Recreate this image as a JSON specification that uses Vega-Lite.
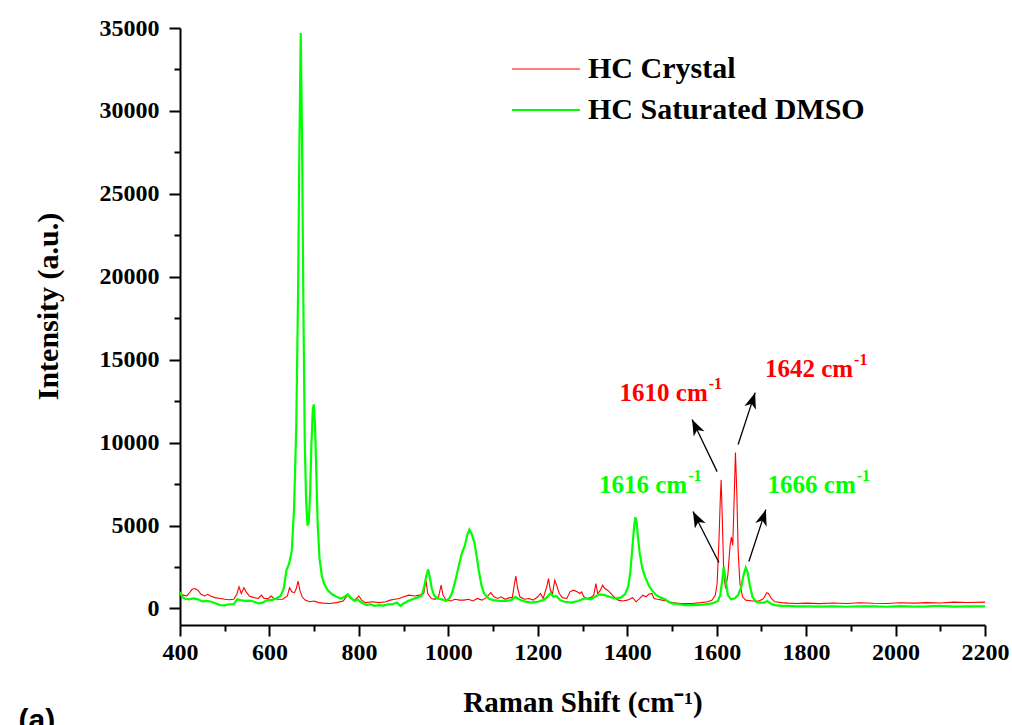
{
 "$schema": "https://vega.github.io/schema/vega-lite/v6.json",
 "width": 805, "height": 597,
 "autosize": {"type": "none"},
 "padding": {"left": 180, "top": 28, "right": 27, "bottom": 100},
 "background": "white",
 "config": {"view": {"stroke": null}, "font": "Liberation Serif"},
 "datasets": {
  "ann": [
   {"series": "HC Crystal", "shift": 1580, "intensity": 13000, "label": "1610 cm", "sup": "-1"},
   {"series": "HC Crystal", "shift": 1905, "intensity": 14450, "label": "1642 cm", "sup": "-1"},
   {"series": "HC Saturated DMSO", "shift": 1534, "intensity": 7470, "label": "1616 cm", "sup": "-1"},
   {"series": "HC Saturated DMSO", "shift": 1911, "intensity": 7470, "label": "1666 cm", "sup": "-1"}
  ],
  "arrows": [
   {"shift": 1601, "intensity": 8250, "shift2": 1545, "intensity2": 11390, "angle": 334},
   {"shift": 1648, "intensity": 9880, "shift2": 1686, "intensity2": 13010, "angle": 18},
   {"shift": 1605, "intensity": 2770, "shift2": 1547, "intensity2": 5840, "angle": 333},
   {"shift": 1672, "intensity": 2830, "shift2": 1710, "intensity2": 5960, "angle": 18}
  ],
  "panel": [{"shift": 80, "intensity": -6800, "label": "(a)"}]
 },
 "layer": [
  {
   "data": {"values": [
    {"series":"HC Crystal","shift":400,"intensity":850},{"series":"HC Crystal","shift":408,"intensity":800},{"series":"HC Crystal","shift":415,"intensity":750},{"series":"HC Crystal","shift":420,"intensity":900},{"series":"HC Crystal","shift":427,"intensity":1150},{"series":"HC Crystal","shift":433,"intensity":1200},{"series":"HC Crystal","shift":440,"intensity":1100},{"series":"HC Crystal","shift":447,"intensity":850},{"series":"HC Crystal","shift":455,"intensity":750},{"series":"HC Crystal","shift":462,"intensity":850},{"series":"HC Crystal","shift":468,"intensity":750},{"series":"HC Crystal","shift":478,"intensity":650},{"series":"HC Crystal","shift":490,"intensity":600},{"series":"HC Crystal","shift":500,"intensity":550},{"series":"HC Crystal","shift":510,"intensity":520},{"series":"HC Crystal","shift":520,"intensity":550},{"series":"HC Crystal","shift":527,"intensity":850},{"series":"HC Crystal","shift":532,"intensity":1300},{"series":"HC Crystal","shift":537,"intensity":900},{"series":"HC Crystal","shift":543,"intensity":1250},{"series":"HC Crystal","shift":548,"intensity":1000},{"series":"HC Crystal","shift":555,"intensity":750},{"series":"HC Crystal","shift":565,"intensity":650},{"series":"HC Crystal","shift":575,"intensity":600},{"series":"HC Crystal","shift":582,"intensity":800},{"series":"HC Crystal","shift":588,"intensity":600},{"series":"HC Crystal","shift":597,"intensity":600},{"series":"HC Crystal","shift":604,"intensity":750},{"series":"HC Crystal","shift":610,"intensity":600},{"series":"HC Crystal","shift":620,"intensity":550},{"series":"HC Crystal","shift":630,"intensity":550},{"series":"HC Crystal","shift":640,"intensity":750},{"series":"HC Crystal","shift":645,"intensity":1250},{"series":"HC Crystal","shift":650,"intensity":1000},{"series":"HC Crystal","shift":656,"intensity":950},{"series":"HC Crystal","shift":660,"intensity":1200},{"series":"HC Crystal","shift":664,"intensity":1650},{"series":"HC Crystal","shift":668,"intensity":1100},{"series":"HC Crystal","shift":673,"intensity":700},{"series":"HC Crystal","shift":680,"intensity":500},{"series":"HC Crystal","shift":690,"intensity":400},{"series":"HC Crystal","shift":700,"intensity":450},{"series":"HC Crystal","shift":710,"intensity":350},{"series":"HC Crystal","shift":720,"intensity":320},{"series":"HC Crystal","shift":735,"intensity":300},{"series":"HC Crystal","shift":750,"intensity":350},{"series":"HC Crystal","shift":765,"intensity":450},{"series":"HC Crystal","shift":775,"intensity":800},{"series":"HC Crystal","shift":782,"intensity":600},{"series":"HC Crystal","shift":790,"intensity":500},{"series":"HC Crystal","shift":800,"intensity":750},{"series":"HC Crystal","shift":806,"intensity":500},{"series":"HC Crystal","shift":815,"intensity":350},{"series":"HC Crystal","shift":830,"intensity":400},{"series":"HC Crystal","shift":845,"intensity":350},{"series":"HC Crystal","shift":860,"intensity":400},{"series":"HC Crystal","shift":870,"intensity":500},{"series":"HC Crystal","shift":880,"intensity":550},{"series":"HC Crystal","shift":890,"intensity":600},{"series":"HC Crystal","shift":900,"intensity":700},{"series":"HC Crystal","shift":912,"intensity":800},{"series":"HC Crystal","shift":925,"intensity":750},{"series":"HC Crystal","shift":935,"intensity":800},{"series":"HC Crystal","shift":945,"intensity":900},{"series":"HC Crystal","shift":950,"intensity":1700},{"series":"HC Crystal","shift":954,"intensity":900},{"series":"HC Crystal","shift":962,"intensity":600},{"series":"HC Crystal","shift":970,"intensity":550},{"series":"HC Crystal","shift":978,"intensity":700},{"series":"HC Crystal","shift":984,"intensity":1400},{"series":"HC Crystal","shift":988,"intensity":800},{"series":"HC Crystal","shift":995,"intensity":500},{"series":"HC Crystal","shift":1005,"intensity":450},{"series":"HC Crystal","shift":1015,"intensity":550},{"series":"HC Crystal","shift":1025,"intensity":500},{"series":"HC Crystal","shift":1035,"intensity":500},{"series":"HC Crystal","shift":1045,"intensity":550},{"series":"HC Crystal","shift":1055,"intensity":450},{"series":"HC Crystal","shift":1065,"intensity":600},{"series":"HC Crystal","shift":1075,"intensity":500},{"series":"HC Crystal","shift":1085,"intensity":650},{"series":"HC Crystal","shift":1095,"intensity":950},{"series":"HC Crystal","shift":1102,"intensity":700},{"series":"HC Crystal","shift":1110,"intensity":600},{"series":"HC Crystal","shift":1118,"intensity":700},{"series":"HC Crystal","shift":1127,"intensity":550},{"series":"HC Crystal","shift":1137,"intensity":650},{"series":"HC Crystal","shift":1143,"intensity":650},{"series":"HC Crystal","shift":1148,"intensity":1500},{"series":"HC Crystal","shift":1151,"intensity":1950},{"series":"HC Crystal","shift":1155,"intensity":1200},{"series":"HC Crystal","shift":1160,"intensity":700},{"series":"HC Crystal","shift":1170,"intensity":550},{"series":"HC Crystal","shift":1180,"intensity":600},{"series":"HC Crystal","shift":1190,"intensity":500},{"series":"HC Crystal","shift":1200,"intensity":700},{"series":"HC Crystal","shift":1206,"intensity":900},{"series":"HC Crystal","shift":1212,"intensity":600},{"series":"HC Crystal","shift":1220,"intensity":1300},{"series":"HC Crystal","shift":1224,"intensity":1800},{"series":"HC Crystal","shift":1228,"intensity":1100},{"series":"HC Crystal","shift":1233,"intensity":900},{"series":"HC Crystal","shift":1238,"intensity":1700},{"series":"HC Crystal","shift":1242,"intensity":1400},{"series":"HC Crystal","shift":1248,"intensity":900},{"series":"HC Crystal","shift":1255,"intensity":650},{"series":"HC Crystal","shift":1265,"intensity":600},{"series":"HC Crystal","shift":1272,"intensity":1000},{"series":"HC Crystal","shift":1280,"intensity":1100},{"series":"HC Crystal","shift":1288,"intensity":1000},{"series":"HC Crystal","shift":1294,"intensity":900},{"series":"HC Crystal","shift":1298,"intensity":1000},{"series":"HC Crystal","shift":1303,"intensity":700},{"series":"HC Crystal","shift":1310,"intensity":600},{"series":"HC Crystal","shift":1318,"intensity":650},{"series":"HC Crystal","shift":1325,"intensity":800},{"series":"HC Crystal","shift":1330,"intensity":1500},{"series":"HC Crystal","shift":1334,"intensity":900},{"series":"HC Crystal","shift":1340,"intensity":1100},{"series":"HC Crystal","shift":1345,"intensity":1400},{"series":"HC Crystal","shift":1350,"intensity":1200},{"series":"HC Crystal","shift":1356,"intensity":1100},{"series":"HC Crystal","shift":1362,"intensity":950},{"series":"HC Crystal","shift":1370,"intensity":700},{"series":"HC Crystal","shift":1380,"intensity":500},{"series":"HC Crystal","shift":1390,"intensity":450},{"series":"HC Crystal","shift":1400,"intensity":500},{"series":"HC Crystal","shift":1412,"intensity":650},{"series":"HC Crystal","shift":1420,"intensity":400},{"series":"HC Crystal","shift":1428,"intensity":600},{"series":"HC Crystal","shift":1435,"intensity":800},{"series":"HC Crystal","shift":1442,"intensity":700},{"series":"HC Crystal","shift":1448,"intensity":850},{"series":"HC Crystal","shift":1455,"intensity":900},{"series":"HC Crystal","shift":1460,"intensity":600},{"series":"HC Crystal","shift":1468,"intensity":550},{"series":"HC Crystal","shift":1478,"intensity":500},{"series":"HC Crystal","shift":1490,"intensity":450},{"series":"HC Crystal","shift":1500,"intensity":350},{"series":"HC Crystal","shift":1520,"intensity":300},{"series":"HC Crystal","shift":1545,"intensity":300},{"series":"HC Crystal","shift":1565,"intensity":350},{"series":"HC Crystal","shift":1580,"intensity":400},{"series":"HC Crystal","shift":1590,"intensity":500},{"series":"HC Crystal","shift":1597,"intensity":800},{"series":"HC Crystal","shift":1601,"intensity":1500},{"series":"HC Crystal","shift":1605,"intensity":4000},{"series":"HC Crystal","shift":1608,"intensity":6500},{"series":"HC Crystal","shift":1610,"intensity":7750},{"series":"HC Crystal","shift":1613,"intensity":5000},{"series":"HC Crystal","shift":1616,"intensity":2000},{"series":"HC Crystal","shift":1620,"intensity":1200},{"series":"HC Crystal","shift":1625,"intensity":2000},{"series":"HC Crystal","shift":1630,"intensity":3800},{"series":"HC Crystal","shift":1633,"intensity":4300},{"series":"HC Crystal","shift":1636,"intensity":3800},{"series":"HC Crystal","shift":1639,"intensity":6500},{"series":"HC Crystal","shift":1642,"intensity":9400},{"series":"HC Crystal","shift":1645,"intensity":7000},{"series":"HC Crystal","shift":1648,"intensity":3500},{"series":"HC Crystal","shift":1652,"intensity":1500},{"series":"HC Crystal","shift":1658,"intensity":700},{"series":"HC Crystal","shift":1665,"intensity":500},{"series":"HC Crystal","shift":1680,"intensity":450},{"series":"HC Crystal","shift":1695,"intensity":450},{"series":"HC Crystal","shift":1705,"intensity":600},{"series":"HC Crystal","shift":1712,"intensity":950},{"series":"HC Crystal","shift":1716,"intensity":900},{"series":"HC Crystal","shift":1722,"intensity":600},{"series":"HC Crystal","shift":1730,"intensity":400},{"series":"HC Crystal","shift":1745,"intensity":350},{"series":"HC Crystal","shift":1760,"intensity":320},{"series":"HC Crystal","shift":1780,"intensity":300},{"series":"HC Crystal","shift":1800,"intensity":320},{"series":"HC Crystal","shift":1830,"intensity":290},{"series":"HC Crystal","shift":1860,"intensity":330},{"series":"HC Crystal","shift":1890,"intensity":300},{"series":"HC Crystal","shift":1920,"intensity":340},{"series":"HC Crystal","shift":1950,"intensity":310},{"series":"HC Crystal","shift":1980,"intensity":300},{"series":"HC Crystal","shift":2010,"intensity":340},{"series":"HC Crystal","shift":2040,"intensity":320},{"series":"HC Crystal","shift":2070,"intensity":350},{"series":"HC Crystal","shift":2100,"intensity":330},{"series":"HC Crystal","shift":2130,"intensity":380},{"series":"HC Crystal","shift":2160,"intensity":360},{"series":"HC Crystal","shift":2200,"intensity":380},
    {"series":"HC Saturated DMSO","shift":400,"intensity":1000},{"series":"HC Saturated DMSO","shift":405,"intensity":700},{"series":"HC Saturated DMSO","shift":410,"intensity":600},{"series":"HC Saturated DMSO","shift":420,"intensity":550},{"series":"HC Saturated DMSO","shift":430,"intensity":600},{"series":"HC Saturated DMSO","shift":440,"intensity":550},{"series":"HC Saturated DMSO","shift":450,"intensity":420},{"series":"HC Saturated DMSO","shift":460,"intensity":450},{"series":"HC Saturated DMSO","shift":470,"intensity":400},{"series":"HC Saturated DMSO","shift":480,"intensity":300},{"series":"HC Saturated DMSO","shift":490,"intensity":200},{"series":"HC Saturated DMSO","shift":500,"intensity":180},{"series":"HC Saturated DMSO","shift":510,"intensity":250},{"series":"HC Saturated DMSO","shift":520,"intensity":250},{"series":"HC Saturated DMSO","shift":528,"intensity":550},{"series":"HC Saturated DMSO","shift":535,"intensity":500},{"series":"HC Saturated DMSO","shift":545,"intensity":450},{"series":"HC Saturated DMSO","shift":555,"intensity":470},{"series":"HC Saturated DMSO","shift":565,"intensity":420},{"series":"HC Saturated DMSO","shift":575,"intensity":300},{"series":"HC Saturated DMSO","shift":585,"intensity":350},{"series":"HC Saturated DMSO","shift":595,"intensity":500},{"series":"HC Saturated DMSO","shift":605,"intensity":500},{"series":"HC Saturated DMSO","shift":615,"intensity":600},{"series":"HC Saturated DMSO","shift":625,"intensity":750},{"series":"HC Saturated DMSO","shift":632,"intensity":1200},{"series":"HC Saturated DMSO","shift":638,"intensity":2300},{"series":"HC Saturated DMSO","shift":644,"intensity":2700},{"series":"HC Saturated DMSO","shift":650,"intensity":3500},{"series":"HC Saturated DMSO","shift":655,"intensity":6000},{"series":"HC Saturated DMSO","shift":660,"intensity":11000},{"series":"HC Saturated DMSO","shift":664,"intensity":19000},{"series":"HC Saturated DMSO","shift":667,"intensity":28000},{"series":"HC Saturated DMSO","shift":670,"intensity":34700},{"series":"HC Saturated DMSO","shift":673,"intensity":28000},{"series":"HC Saturated DMSO","shift":676,"intensity":18000},{"series":"HC Saturated DMSO","shift":679,"intensity":10000},{"series":"HC Saturated DMSO","shift":682,"intensity":6500},{"series":"HC Saturated DMSO","shift":685,"intensity":5000},{"series":"HC Saturated DMSO","shift":688,"intensity":5200},{"series":"HC Saturated DMSO","shift":691,"intensity":7000},{"series":"HC Saturated DMSO","shift":694,"intensity":10000},{"series":"HC Saturated DMSO","shift":697,"intensity":12000},{"series":"HC Saturated DMSO","shift":699,"intensity":12300},{"series":"HC Saturated DMSO","shift":702,"intensity":11000},{"series":"HC Saturated DMSO","shift":705,"intensity":8000},{"series":"HC Saturated DMSO","shift":708,"intensity":5000},{"series":"HC Saturated DMSO","shift":712,"intensity":3000},{"series":"HC Saturated DMSO","shift":717,"intensity":2000},{"series":"HC Saturated DMSO","shift":722,"intensity":1500},{"series":"HC Saturated DMSO","shift":730,"intensity":1100},{"series":"HC Saturated DMSO","shift":740,"intensity":850},{"series":"HC Saturated DMSO","shift":750,"intensity":700},{"series":"HC Saturated DMSO","shift":760,"intensity":600},{"series":"HC Saturated DMSO","shift":768,"intensity":700},{"series":"HC Saturated DMSO","shift":775,"intensity":850},{"series":"HC Saturated DMSO","shift":782,"intensity":650},{"series":"HC Saturated DMSO","shift":790,"intensity":450},{"series":"HC Saturated DMSO","shift":797,"intensity":550},{"series":"HC Saturated DMSO","shift":803,"intensity":400},{"series":"HC Saturated DMSO","shift":810,"intensity":300},{"series":"HC Saturated DMSO","shift":818,"intensity":200},{"series":"HC Saturated DMSO","shift":825,"intensity":250},{"series":"HC Saturated DMSO","shift":835,"intensity":150},{"series":"HC Saturated DMSO","shift":845,"intensity":200},{"series":"HC Saturated DMSO","shift":855,"intensity":170},{"series":"HC Saturated DMSO","shift":865,"intensity":250},{"series":"HC Saturated DMSO","shift":875,"intensity":250},{"series":"HC Saturated DMSO","shift":885,"intensity":350},{"series":"HC Saturated DMSO","shift":893,"intensity":150},{"series":"HC Saturated DMSO","shift":900,"intensity":300},{"series":"HC Saturated DMSO","shift":910,"intensity":450},{"series":"HC Saturated DMSO","shift":920,"intensity":550},{"series":"HC Saturated DMSO","shift":930,"intensity":650},{"series":"HC Saturated DMSO","shift":940,"intensity":750},{"series":"HC Saturated DMSO","shift":946,"intensity":1300},{"series":"HC Saturated DMSO","shift":951,"intensity":2000},{"series":"HC Saturated DMSO","shift":955,"intensity":2350},{"series":"HC Saturated DMSO","shift":959,"intensity":1800},{"series":"HC Saturated DMSO","shift":963,"intensity":1200},{"series":"HC Saturated DMSO","shift":968,"intensity":800},{"series":"HC Saturated DMSO","shift":975,"intensity":600},{"series":"HC Saturated DMSO","shift":985,"intensity":550},{"series":"HC Saturated DMSO","shift":995,"intensity":450},{"series":"HC Saturated DMSO","shift":1002,"intensity":600},{"series":"HC Saturated DMSO","shift":1008,"intensity":900},{"series":"HC Saturated DMSO","shift":1015,"intensity":1600},{"series":"HC Saturated DMSO","shift":1022,"intensity":2400},{"series":"HC Saturated DMSO","shift":1030,"intensity":3300},{"series":"HC Saturated DMSO","shift":1037,"intensity":3800},{"series":"HC Saturated DMSO","shift":1042,"intensity":4400},{"series":"HC Saturated DMSO","shift":1047,"intensity":4750},{"series":"HC Saturated DMSO","shift":1052,"intensity":4500},{"series":"HC Saturated DMSO","shift":1058,"intensity":4000},{"series":"HC Saturated DMSO","shift":1063,"intensity":3200},{"series":"HC Saturated DMSO","shift":1068,"intensity":2300},{"series":"HC Saturated DMSO","shift":1074,"intensity":1400},{"series":"HC Saturated DMSO","shift":1080,"intensity":900},{"series":"HC Saturated DMSO","shift":1090,"intensity":600},{"series":"HC Saturated DMSO","shift":1100,"intensity":500},{"series":"HC Saturated DMSO","shift":1115,"intensity":450},{"series":"HC Saturated DMSO","shift":1130,"intensity":450},{"series":"HC Saturated DMSO","shift":1140,"intensity":500},{"series":"HC Saturated DMSO","shift":1150,"intensity":700},{"series":"HC Saturated DMSO","shift":1158,"intensity":550},{"series":"HC Saturated DMSO","shift":1170,"intensity":420},{"series":"HC Saturated DMSO","shift":1185,"intensity":350},{"series":"HC Saturated DMSO","shift":1200,"intensity":400},{"series":"HC Saturated DMSO","shift":1212,"intensity":500},{"series":"HC Saturated DMSO","shift":1220,"intensity":650},{"series":"HC Saturated DMSO","shift":1228,"intensity":900},{"series":"HC Saturated DMSO","shift":1235,"intensity":700},{"series":"HC Saturated DMSO","shift":1242,"intensity":750},{"series":"HC Saturated DMSO","shift":1250,"intensity":500},{"series":"HC Saturated DMSO","shift":1260,"intensity":400},{"series":"HC Saturated DMSO","shift":1275,"intensity":350},{"series":"HC Saturated DMSO","shift":1290,"intensity":450},{"series":"HC Saturated DMSO","shift":1305,"intensity":600},{"series":"HC Saturated DMSO","shift":1318,"intensity":550},{"series":"HC Saturated DMSO","shift":1328,"intensity":700},{"series":"HC Saturated DMSO","shift":1338,"intensity":850},{"series":"HC Saturated DMSO","shift":1350,"intensity":800},{"series":"HC Saturated DMSO","shift":1360,"intensity":700},{"series":"HC Saturated DMSO","shift":1372,"intensity":600},{"series":"HC Saturated DMSO","shift":1385,"intensity":650},{"series":"HC Saturated DMSO","shift":1395,"intensity":850},{"series":"HC Saturated DMSO","shift":1402,"intensity":1300},{"series":"HC Saturated DMSO","shift":1407,"intensity":2200},{"series":"HC Saturated DMSO","shift":1411,"intensity":3500},{"series":"HC Saturated DMSO","shift":1415,"intensity":4800},{"series":"HC Saturated DMSO","shift":1418,"intensity":5500},{"series":"HC Saturated DMSO","shift":1421,"intensity":5200},{"series":"HC Saturated DMSO","shift":1424,"intensity":4300},{"series":"HC Saturated DMSO","shift":1428,"intensity":3300},{"series":"HC Saturated DMSO","shift":1434,"intensity":2400},{"series":"HC Saturated DMSO","shift":1440,"intensity":1900},{"series":"HC Saturated DMSO","shift":1448,"intensity":1400},{"series":"HC Saturated DMSO","shift":1455,"intensity":1100},{"series":"HC Saturated DMSO","shift":1465,"intensity":800},{"series":"HC Saturated DMSO","shift":1475,"intensity":650},{"series":"HC Saturated DMSO","shift":1485,"intensity":550},{"series":"HC Saturated DMSO","shift":1492,"intensity":400},{"series":"HC Saturated DMSO","shift":1500,"intensity":300},{"series":"HC Saturated DMSO","shift":1515,"intensity":250},{"series":"HC Saturated DMSO","shift":1530,"intensity":200},{"series":"HC Saturated DMSO","shift":1550,"intensity":200},{"series":"HC Saturated DMSO","shift":1570,"intensity":230},{"series":"HC Saturated DMSO","shift":1590,"intensity":300},{"series":"HC Saturated DMSO","shift":1603,"intensity":450},{"series":"HC Saturated DMSO","shift":1608,"intensity":800},{"series":"HC Saturated DMSO","shift":1612,"intensity":1600},{"series":"HC Saturated DMSO","shift":1616,"intensity":2500},{"series":"HC Saturated DMSO","shift":1620,"intensity":1700},{"series":"HC Saturated DMSO","shift":1625,"intensity":800},{"series":"HC Saturated DMSO","shift":1632,"intensity":550},{"series":"HC Saturated DMSO","shift":1640,"intensity":600},{"series":"HC Saturated DMSO","shift":1648,"intensity":800},{"series":"HC Saturated DMSO","shift":1655,"intensity":1300},{"series":"HC Saturated DMSO","shift":1660,"intensity":2000},{"series":"HC Saturated DMSO","shift":1665,"intensity":2450},{"series":"HC Saturated DMSO","shift":1669,"intensity":2200},{"series":"HC Saturated DMSO","shift":1674,"intensity":1400},{"series":"HC Saturated DMSO","shift":1680,"intensity":700},{"series":"HC Saturated DMSO","shift":1688,"intensity":400},{"series":"HC Saturated DMSO","shift":1698,"intensity":350},{"series":"HC Saturated DMSO","shift":1706,"intensity":350},{"series":"HC Saturated DMSO","shift":1713,"intensity":450},{"series":"HC Saturated DMSO","shift":1720,"intensity":300},{"series":"HC Saturated DMSO","shift":1730,"intensity":200},{"series":"HC Saturated DMSO","shift":1745,"intensity":150},{"series":"HC Saturated DMSO","shift":1760,"intensity":150},{"series":"HC Saturated DMSO","shift":1780,"intensity":120},{"series":"HC Saturated DMSO","shift":1800,"intensity":130},{"series":"HC Saturated DMSO","shift":1830,"intensity":110},{"series":"HC Saturated DMSO","shift":1860,"intensity":130},{"series":"HC Saturated DMSO","shift":1890,"intensity":100},{"series":"HC Saturated DMSO","shift":1920,"intensity":130},{"series":"HC Saturated DMSO","shift":1950,"intensity":120},{"series":"HC Saturated DMSO","shift":1980,"intensity":100},{"series":"HC Saturated DMSO","shift":2010,"intensity":140},{"series":"HC Saturated DMSO","shift":2040,"intensity":110},{"series":"HC Saturated DMSO","shift":2070,"intensity":120},{"series":"HC Saturated DMSO","shift":2100,"intensity":160},{"series":"HC Saturated DMSO","shift":2130,"intensity":110},{"series":"HC Saturated DMSO","shift":2160,"intensity":130},{"series":"HC Saturated DMSO","shift":2200,"intensity":120}
   ]},
   "mark": {"type": "line", "clip": true},
   "encoding": {
    "x": {"field": "shift", "type": "quantitative",
     "scale": {"domain": [400, 2200], "nice": false, "zero": false},
     "axis": {"title": "Raman Shift (cm⁻¹)", "values": [400,500,600,700,800,900,1000,1100,1200,1300,1400,1500,1600,1700,1800,1900,2000,2100,2200],
      "labelExpr": "datum.value % 200 === 0 ? datum.label : ''", "format": "d",
      "tickSize": {"condition": {"test": "datum.value % 200 === 0", "value": 11}, "value": 6},
      "tickWidth": 2, "tickColor": "black", "domainColor": "black", "domainWidth": 2, "grid": false,
      "labelFont": "Liberation Serif", "labelFontSize": 24, "labelFontWeight": "bold", "labelColor": "black", "labelPadding": 4, "labelFlush": false, "labelOverlap": false,
      "titleFont": "Liberation Serif", "titleFontSize": 29, "titleFontWeight": "bold", "titleColor": "black", "titlePadding": 24}},
    "y": {"field": "intensity", "type": "quantitative",
     "scale": {"domain": [-1000, 35000], "nice": false, "zero": false},
     "axis": {"title": "Intensity (a.u.)", "values": [0,2500,5000,7500,10000,12500,15000,17500,20000,22500,25000,27500,30000,32500,35000],
      "labelExpr": "datum.value % 5000 === 0 ? datum.label : ''", "format": "d",
      "tickSize": {"condition": {"test": "datum.value % 5000 === 0", "value": 11}, "value": 6},
      "tickWidth": 2, "tickColor": "black", "domainColor": "black", "domainWidth": 2, "grid": false,
      "labelFont": "Liberation Serif", "labelFontSize": 24, "labelFontWeight": "bold", "labelColor": "black", "labelPadding": 10, "labelFlush": false, "labelOverlap": false,
      "titleFont": "Liberation Serif", "titleFontSize": 30, "titleFontWeight": "bold", "titleColor": "black", "titlePadding": 36, "titleY": 278}},
    "color": {"field": "series", "type": "nominal",
     "scale": {"domain": ["HC Crystal", "HC Saturated DMSO"], "range": ["#ff0000", "#00ff00"]},
     "legend": {"orient": "none", "legendX": 351, "legendY": 26, "title": null, "symbolType": "M-3.4,0L3.4,0", "symbolSize": 400, "symbolStrokeWidth": 2,
      "labelFont": "Liberation Serif", "labelFontSize": 30, "labelFontWeight": "bold", "labelColor": "black", "labelOffset": 27, "labelLimit": 0, "rowPadding": 11}},
    "strokeWidth": {"field": "series", "type": "nominal", "scale": {"domain": ["HC Crystal", "HC Saturated DMSO"], "range": [1.1, 2.2]}, "legend": null}
   }
  },
  {
   "data": {"name": "arrows"},
   "mark": {"type": "rule", "color": "black", "strokeWidth": 1.3},
   "encoding": {
    "x": {"field": "shift", "type": "quantitative"},
    "y": {"field": "intensity", "type": "quantitative"},
    "x2": {"field": "shift2"},
    "y2": {"field": "intensity2"}
   }
  },
  {
   "data": {"name": "arrows"},
   "mark": {"type": "point", "shape": "M0,0L-0.75,2L0,1.45L0.75,2Z", "filled": true, "color": "black", "opacity": 1, "size": 256, "strokeWidth": 0},
   "encoding": {
    "x": {"field": "shift2", "type": "quantitative"},
    "y": {"field": "intensity2", "type": "quantitative"},
    "angle": {"field": "angle", "type": "quantitative", "scale": null}
   }
  },
  {
   "data": {"name": "ann"},
   "transform": [{"filter": "datum.series === 'HC Crystal'"}],
   "mark": {"type": "text", "align": "right", "baseline": "middle", "font": "Liberation Serif", "fontSize": 25, "fontWeight": "bold", "color": "#ff0000"},
   "encoding": {"x": {"field": "shift", "type": "quantitative"}, "y": {"field": "intensity", "type": "quantitative"}, "text": {"field": "label"}}
  },
  {
   "data": {"name": "ann"},
   "transform": [{"filter": "datum.series === 'HC Crystal'"}],
   "mark": {"type": "text", "align": "left", "baseline": "middle", "dx": 1, "dy": -9, "font": "Liberation Serif", "fontSize": 16, "fontWeight": "bold", "color": "#ff0000"},
   "encoding": {"x": {"field": "shift", "type": "quantitative"}, "y": {"field": "intensity", "type": "quantitative"}, "text": {"field": "sup"}}
  },
  {
   "data": {"name": "ann"},
   "transform": [{"filter": "datum.series === 'HC Saturated DMSO'"}],
   "mark": {"type": "text", "align": "right", "baseline": "middle", "font": "Liberation Serif", "fontSize": 25, "fontWeight": "bold", "color": "#00ff00"},
   "encoding": {"x": {"field": "shift", "type": "quantitative"}, "y": {"field": "intensity", "type": "quantitative"}, "text": {"field": "label"}}
  },
  {
   "data": {"name": "ann"},
   "transform": [{"filter": "datum.series === 'HC Saturated DMSO'"}],
   "mark": {"type": "text", "align": "left", "baseline": "middle", "dx": 1, "dy": -9, "font": "Liberation Serif", "fontSize": 16, "fontWeight": "bold", "color": "#00ff00"},
   "encoding": {"x": {"field": "shift", "type": "quantitative"}, "y": {"field": "intensity", "type": "quantitative"}, "text": {"field": "sup"}}
  },
  {
   "data": {"name": "panel"},
   "mark": {"type": "text", "align": "center", "baseline": "middle", "font": "Liberation Sans", "fontSize": 30, "fontWeight": "bold", "color": "black"},
   "encoding": {"x": {"field": "shift", "type": "quantitative"}, "y": {"field": "intensity", "type": "quantitative"}, "text": {"field": "label"}}
  }
 ]
}
